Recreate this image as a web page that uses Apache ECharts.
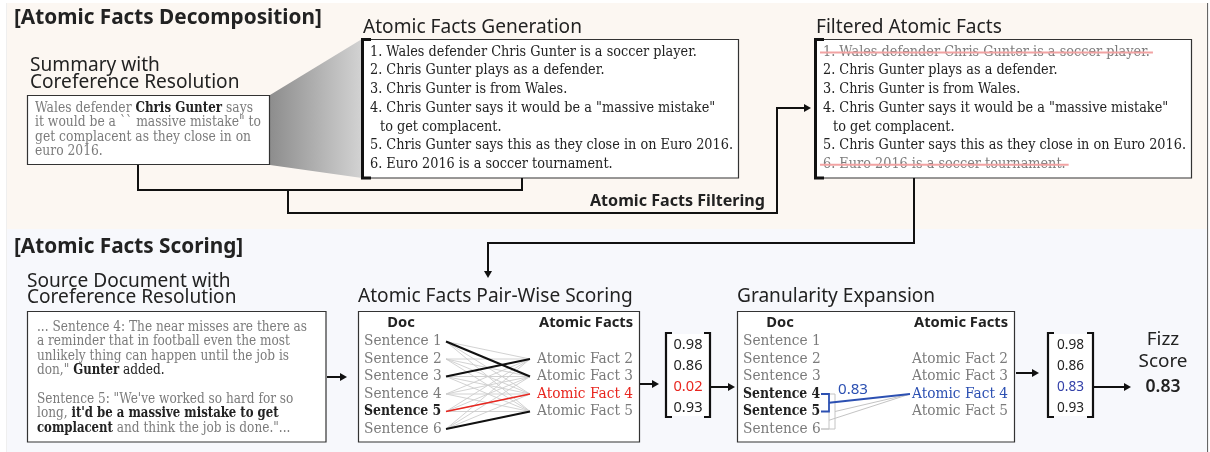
<!DOCTYPE html>
<html><head><meta charset="utf-8">
<script src="https://cdn.jsdelivr.net/npm/echarts@6/dist/echarts.min.js"></script>
<style>html,body{margin:0;padding:0;background:#fff}#c{width:1210px;height:452px}</style>
</head><body><div id="c"></div>
<script>
// ---------------- data ----------------
const sectionTitles = ['[Atomic Facts Decomposition]', '[Atomic Facts Scoring]'];
const stepTitles = ['Atomic Facts Generation', 'Filtered Atomic Facts', 'Atomic Facts Pair-Wise Scoring', 'Granularity Expansion'];
const summaryTitle = ['Summary with', 'Coreference Resolution'];
const sourceTitle = ['Source Document with', 'Coreference Resolution'];
const filteringLabel = 'Atomic Facts Filtering';
// segments: [text, style] style 0 = gray, 1 = bold dark, 2 = dark
const summaryLines = [
  [['Wales defender ', 0], ['Chris Gunter', 1], [' says', 0]],
  [['it would be a `` massive mistake" to', 0]],
  [['get complacent as they close in on', 0]],
  [['euro 2016.', 0]]
];
const sourceParagraphs = [
  [
    [['... Sentence 4: The near misses are there as', 0]],
    [['a reminder that in football even the most', 0]],
    [['unlikely thing can happen until the job is', 0]],
    [['don," ', 0], ['Gunter', 1], [' added.', 2]]
  ],
  [
    [['Sentence 5: "We\'ve worked so hard for so', 0]],
    [['long, ', 0], ['it\'d be a massive mistake to get', 1]],
    [['complacent', 1], [' and think the job is done."...', 0]]
  ]
];
const atomicFacts = [
  ['1. Wales defender Chris Gunter is a soccer player.'],
  ['2. Chris Gunter plays as a defender.'],
  ['3. Chris Gunter is from Wales.'],
  ['4. Chris Gunter says it would be a "massive mistake"', 'to get complacent.'],
  ['5. Chris Gunter says this as they close in on Euro 2016.'],
  ['6. Euro 2016 is a soccer tournament.']
];
const factKept = [false, true, true, true, true, false];
const docSentences = ['Sentence 1', 'Sentence 2', 'Sentence 3', 'Sentence 4', 'Sentence 5', 'Sentence 6'];
const factLabels = ['Atomic Fact 2', 'Atomic Fact 3', 'Atomic Fact 4', 'Atomic Fact 5'];
const factRows = [1, 2, 3, 4];
const bestMatch = [[0, 1], [2, 0], [4, 2], [5, 3]]; // [sentence, fact]
const pairScores = [0.98, 0.86, 0.02, 0.93];
const lowFact = 2;
const expandedSpan = [3, 4];
const candidateSpans = [[4, 5], [3, 5]];
const expandedScores = [0.98, 0.86, 0.83, 0.93];
const fizzScore = 0.83;
const headers = ['Doc', 'Atomic Facts'];
const fizzLabel = ['Fizz', 'Score'];

// ---------------- helpers ----------------
const G = [];
const ctx = document.createElement('canvas').getContext('2d');
const SERIF = '"DejaVu Serif", "Liberation Serif", serif';
const SANS = '"Noto Sans", "Open Sans", sans-serif';
function F(size, weight, fam) { return (weight || 400) + ' ' + size.toFixed(2) + 'px ' + fam; }
function tw(t, font) { ctx.font = font; return ctx.measureText(t).width; }
function fit(sample, fam, weight, target) { return 100 * target / tw(sample, F(100, weight, fam)); }
function T(x, y, text, font, fill, align, sx) {
  G.push({ type: 'text', x: x, y: y, scaleX: sx || 1, silent: true, z: 10,
    style: { text: text, font: font, fill: fill, align: align || 'left', textAlign: align || 'left',
      verticalAlign: 'middle', textVerticalAlign: 'middle' } });
}
function L(points, stroke, w, dash, z) {
  G.push({ type: 'polyline', z: z || 5, shape: { points: points },
    style: { stroke: stroke, lineWidth: w || 1.5, fill: null, lineDash: dash || null } });
}
function R(x, y, w, h, stroke, fill, lw, z) {
  G.push({ type: 'rect', z: z || 2, shape: { x: x, y: y, width: w, height: h },
    style: { stroke: stroke || null, fill: fill || null, lineWidth: lw || 1 } });
}
function P(points, fill, z) { G.push({ type: 'polygon', z: z || 6, shape: { points: points }, style: { fill: fill } }); }
function head(x, y, dir, color) {
  const c = color || '#111', l = 7, h = 4;
  if (dir === 'r') P([[x, y], [x - l, y - h], [x - l, y + h]], c);
  else if (dir === 'd') P([[x, y], [x - h, y - l], [x + h, y - l]], c);
}
function arrowR(x0, x1, y) { L([[x0, y], [x1 - 5, y]], '#111', 2); head(x1, y, 'r'); }
// serif text class: size chosen for height, horizontal scale chosen to match measured width
function serifClass(sample, size, target, boldGrow) {
  const wr = tw(sample, F(size, 400, SERIF)), wb = tw(sample, F(size, 700, SERIF));
  const sx = target / wr;
  return { size: size, sx: { 400: sx, 700: target * (boldGrow || 1.03) / wb } };
}
function segLine(x, y, segs, cls, styles) {
  let cx = x;
  segs.forEach(function (s) {
    const st = styles[s[1]];
    const f = F(cls.size, st.w, SERIF);
    T(cx, y, s[0], f, st.c, 'left', cls.sx[st.w]);
    cx += tw(s[0], f) * cls.sx[st.w];
  });
}
const GRAY = '#7b7b7b', DARK = '#222', RED = '#e8261f', BLUE = '#2c50b2', BLUET = '#3340a8';
const segStyles = [{ c: GRAY, w: 400 }, { c: DARK, w: 700 }, { c: DARK, w: 400 }];

// ---------------- sizes (fitted to measured widths) ----------------
const secSize = fit(sectionTitles[0], SANS, 700, 308);
const subSize = fit(stepTitles[0], SANS, 400, 219);
const factCls = serifClass(atomicFacts[4][0], 14.6, 363);
const sumCls = serifClass(summaryLines[1][0][0], 14.0, 226, 1.06);
const srcCls = serifClass(sourceParagraphs[0][0][0][0], 14.0, 270, 1.06);
const labCls = serifClass(factLabels[0], 15.2, 96, 1.0);
const hdrSize = fit(headers[1], SANS, 700, 94);
const filtSize = fit(filteringLabel, SANS, 700, 175);
const vecSize = fit('0.98', SANS, 400, 29);
const vec2Size = fit('0.98', SANS, 400, 27);
const fizzSize = fit(fizzLabel[1], SANS, 400, 49);
const fizzValSize = fit('0.83', SANS, 600, 35);
const smallSize = fit('0.83', SANS, 400, 30);

// ---------------- backgrounds and frame ----------------
R(7, 3, 1200, 226, null, '#fcf7f2', 1, 0);
R(7, 229, 1200, 223, null, '#f7f8fc', 1, 0);
L([[7.5, 452], [7.5, 3.5], [1207.5, 3.5], [1207.5, 452]], '#666', 1.2, null, 1);
L([[7, 229.5], [1207, 229.5]], '#666', 1.3, [8, 5], 1);

// ---------------- section 1 ----------------
T(14, 18, sectionTitles[0], F(secSize, 700, SANS), DARK);
T(30, 66, summaryTitle[0], F(subSize, 400, SANS), DARK);
T(30, 83, summaryTitle[1], F(subSize, 400, SANS), DARK);
R(27.5, 95.5, 242, 69, '#333', '#fff', 1.2, 3);
summaryLines.forEach(function (ln, i) { segLine(35, 108 + i * 14.5, ln, sumCls, segStyles); });
G.push({ type: 'polygon', z: 2, shape: { points: [[270, 95], [362, 39], [362, 178], [270, 165]] },
  style: { fill: { type: 'linear', x: 0, y: 0, x2: 1, y2: 0, colorStops: [{ offset: 0, color: '#8d8d8d' }, { offset: 1, color: '#d3d3d3' }] } } });

function factBox(x0, title, kept) {
  T(x0 + 1, 28, title, F(subSize, 400, SANS), DARK);
  R(x0 + 0.5, 39.5, 376, 138.5, '#333', '#fff', 1.2, 3);
  L([[x0 + 9, 39.5], [x0 + 0.5, 39.5], [x0 + 0.5, 178], [x0 + 9, 178]], '#111', 3, null, 6);
  let row = 0;
  atomicFacts.forEach(function (lines, i) {
    lines.forEach(function (t, j) {
      const y = 52 + row * 18.7;
      const x = x0 + 8 + (j > 0 ? 10 : 0);
      const f = F(factCls.size, 400, SERIF);
      const isKept = !kept || kept[i];
      T(x, y, t, f, isKept ? DARK : GRAY, 'left', factCls.sx[400]);
      if (!isKept) L([[x - 3, y + 0.5], [x + tw(t, f) * factCls.sx[400] + 3, y + 0.5]], '#f2a3a3', 2, null, 11);
      row++;
    });
  });
}
factBox(362, stepTitles[0], null);
factBox(815, stepTitles[1], factKept);

L([[138, 165], [138, 190], [522, 190], [522, 178]], '#111', 2);
L([[288, 190], [288, 213], [777, 213], [777, 108], [804, 108]], '#111', 2);
head(811, 108, 'r');
T(765, 201, filteringLabel, F(filtSize, 700, SANS), DARK, 'right');
L([[914, 178], [914, 243], [488, 243], [488, 271]], '#111', 2);
head(488, 278, 'd');

// ---------------- section 2 ----------------
T(14, 247, sectionTitles[1], F(secSize, 700, SANS), DARK);
T(27, 282, sourceTitle[0], F(subSize, 400, SANS), DARK);
T(27, 298, sourceTitle[1], F(subSize, 400, SANS), DARK);
R(27.5, 311.5, 298.5, 130.5, '#333', '#fff', 1.2, 3);
let sy = 327;
sourceParagraphs.forEach(function (para) {
  para.forEach(function (ln) { segLine(37, sy, ln, srcCls, segStyles); sy += 14.5; });
  sy += 14;
});
arrowR(327, 347, 377);

const rowY = function (i) { return 341.5 + i * 17.5; };
function matchBox(x0, x1, title, sentStyle, factStyle) {
  T(x0, 297, title, F(subSize, 400, SANS), DARK);
  R(x0 + 0.5, 311.5, x1 - x0, 130.5, '#333', '#fff', 1.2, 3);
  T(x0 + 43, 323, headers[0], F(hdrSize, 700, SANS), DARK, 'center');
  T(x1 - 6, 323, headers[1], F(hdrSize, 700, SANS), DARK, 'right');
  docSentences.forEach(function (s, i) {
    const st = sentStyle(i);
    T(x0 + 6, rowY(i), s, F(labCls.size, st.w, SERIF), st.c, 'left', labCls.sx[st.w]);
  });
  factLabels.forEach(function (s, k) {
    const st = factStyle(k);
    T(x1 - 6, rowY(factRows[k]), s, F(labCls.size, st.w, SERIF), st.c, 'right', labCls.sx[st.w]);
  });
}
matchBox(358, 639, stepTitles[2],
  function (i) { return i === bestMatch[lowFact][0] ? { c: DARK, w: 700 } : { c: GRAY, w: 400 }; },
  function (k) { return k === lowFact ? { c: RED, w: 400 } : { c: GRAY, w: 400 }; });
const ex0 = 446, ex1 = 530;
docSentences.forEach(function (s, i) {
  factLabels.forEach(function (f, k) {
    L([[ex0, rowY(i)], [ex1, rowY(factRows[k])]], '#cdcdcd', 0.9, null, 4);
  });
});
bestMatch.forEach(function (m) {
  const low = m[1] === lowFact;
  L([[ex0, rowY(m[0])], [ex1, rowY(factRows[m[1]])]], low ? RED : '#111', low ? 1.5 : 2, null, 7);
});
arrowR(640, 659, 384);

function vector(x0, x1, vals, size, hi, hiColor) {
  L([[x0 + 6, 333], [x0, 333], [x0, 417], [x0 + 6, 417]], '#111', 2.2, null, 6);
  L([[x1 - 6, 333], [x1, 333], [x1, 417], [x1 - 6, 417]], '#111', 2.2, null, 6);
  R(x0 + 1, 334, x1 - x0 - 2, 82, null, '#fff', 1, 3);
  vals.forEach(function (v, i) {
    T((x0 + x1) / 2, 345 + i * 21, v.toFixed(2), F(size, 400, SANS), i === hi ? hiColor : DARK, 'center');
  });
}
vector(666, 710, pairScores, vecSize, lowFact, RED);
arrowR(711, 735, 387);

const gx0 = 737, gx1 = 1014;
matchBox(gx0, gx1, stepTitles[3],
  function (i) { return (i >= expandedSpan[0] && i <= expandedSpan[1]) ? { c: DARK, w: 700 } : { c: GRAY, w: 400 }; },
  function (k) { return k === lowFact ? { c: BLUE, w: 400 } : { c: GRAY, w: 400 }; });
const gFactX = 910, gFactY = rowY(factRows[lowFact]);
function spanBracket(span, bx, color, lw, z) {
  const ya = rowY(span[0]), yb = rowY(span[1]);
  L([[821, ya], [bx, ya], [bx, yb], [821, yb]], color, lw, null, z);
  L([[bx, (ya + yb) / 2], [gFactX, gFactY]], color, lw, null, z);
}
spanBracket(candidateSpans[1], 835, '#c4c4c4', 1, 4);
spanBracket(candidateSpans[0], 829, '#c4c4c4', 1, 4);
spanBracket(expandedSpan, 829, BLUE, 1.8, 8);
T(838, 390, fizzScore.toFixed(2), F(smallSize, 400, SANS), BLUE);
arrowR(1016, 1039, 373);
vector(1048, 1093, expandedScores, vec2Size, lowFact, BLUET);
arrowR(1094, 1131, 387);
T(1163, 340, fizzLabel[0], F(fizzSize, 400, SANS), DARK, 'center');
T(1163, 362, fizzLabel[1], F(fizzSize, 400, SANS), DARK, 'center');
T(1163, 387, fizzScore.toFixed(2), F(fizzValSize, 600, SANS), DARK, 'center');

const chart = echarts.init(document.getElementById('c'), null, { renderer: 'canvas' });
chart.setOption({ animation: false, graphic: { elements: G } });
</script></body></html>
